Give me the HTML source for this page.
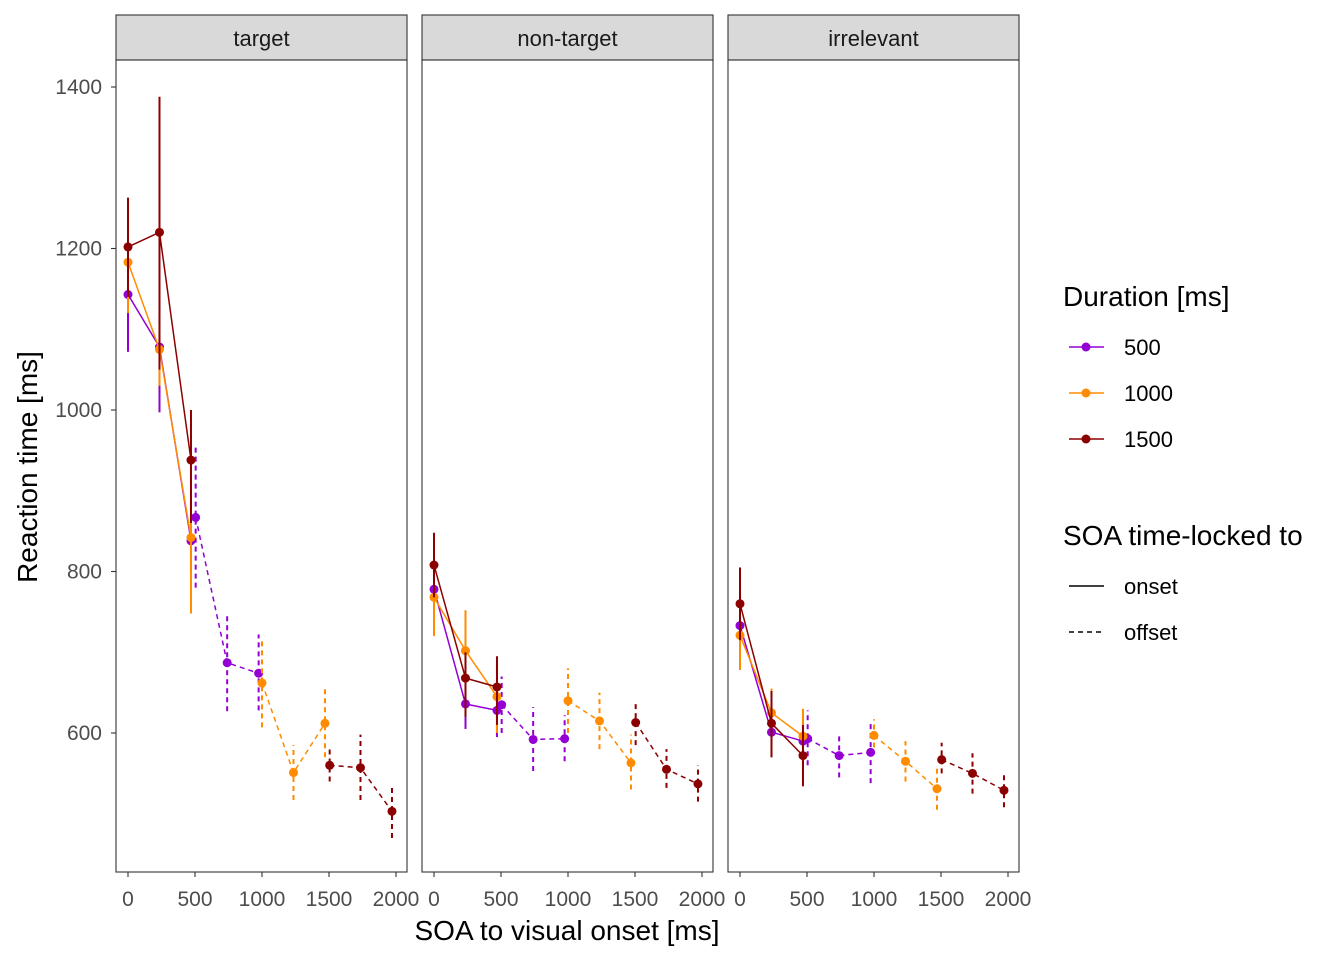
<!DOCTYPE html>
<html><head><meta charset="utf-8"><style>
body{margin:0;background:#fff;font-family:"Liberation Sans",sans-serif}
</style></head><body>
<svg id="chart" width="1344" height="960" xmlns="http://www.w3.org/2000/svg" font-family="Liberation Sans, sans-serif" style="position:absolute;left:0;top:0"></svg>
<script>
const panels=["target","non-target","irrelevant"];
const durations=["500","1000","1500"];
const colors=["#9400D3","#FF8C00","#8B0000"];
const onsetX=[0,235,470];
const offsetX=[[505,740,975],[1000,1235,1470],[1505,1735,1970]];
const onsetMean=[[[1143,1078,838],[1183,1075,842],[1202,1220,938]],
 [[778,636,628],[768,702,645],[808,668,657]],
 [[733,601,590],[721,625,596],[760,612,572]]];
const onsetLo=[[[1072,997,800],[1120,1030,748],[1140,1050,860]],
 [[740,605,595],[720,650,600],[768,620,610]],
 [[700,570,560],[678,590,560],[715,570,534]]];
const onsetHi=[[[1215,1150,880],[1250,1120,900],[1263,1388,1000]],
 [[815,668,660],[815,752,690],[848,700,695]],
 [[765,632,620],[765,655,630],[805,652,610]]];
const offsetMean=[[[867,687,674],[662,551,612],[560,557,503]],
 [[635,592,593],[640,615,563],[613,555,537]],
 [[593,572,576],[597,565,531],[567,550,529]]];
const offsetLo=[[[780,627,628],[607,517,570],[540,517,470]],
 [[600,553,565],[600,580,530],[585,532,515]],
 [[560,545,538],[582,540,505],[550,525,508]]];
const offsetHi=[[[955,748,722],[718,585,655],[580,598,535]],
 [[670,632,622],[680,650,598],[640,580,560]],
 [[628,600,612],[617,590,557],[588,575,552]]];
const xTicks=[0,500,1000,1500,2000];
const yTicks=[600,800,1000,1200,1400];

const svg=document.getElementById('chart');
const NS="http://www.w3.org/2000/svg";
function mk(t,a,p){const e=document.createElementNS(NS,t);for(const k in a)e.setAttribute(k,a[k]);(p||svg).appendChild(e);return e;}
const panelLeft=[116,422,728], panelW=291, plotTop=60, plotBottom=872;
function xs(p,v){return panelLeft[p]+12+v*0.134;}
function ys(v){return 87+(1400-v)*0.8075;}

yTicks.forEach(t=>{
 const l=mk('line',{x1:111,x2:116,y1:ys(t),y2:ys(t),stroke:'#333','stroke-width':1.1});
 
 
 const tx=mk('text',{x:102,y:ys(t)+7,'text-anchor':'end','font-size':21,fill:'#4d4d4d'});
 tx.textContent=t;
 
 
});

panels.forEach((name,p)=>{
 const g=mk('g',{});
 
 
 const s=mk('rect',{x:panelLeft[p],y:15,width:panelW,height:45,fill:'#d9d9d9',stroke:'#333','stroke-width':1.1},g);
 
 
 const st=mk('text',{x:panelLeft[p]+panelW/2,y:46,'text-anchor':'middle','font-size':22,fill:'#1a1a1a'},g);
 st.textContent=name;
 
 
 xTicks.forEach(t=>{
  const l=mk('line',{x1:xs(p,t),x2:xs(p,t),y1:plotBottom,y2:plotBottom+5,stroke:'#333','stroke-width':1.1},g);
  
  
  const tx=mk('text',{x:xs(p,t),y:906,'text-anchor':'middle','font-size':21,fill:'#4d4d4d'},g);
  tx.textContent=t;
  
  
 });
 durations.forEach((d,i)=>{
  const c=colors[i];
  [[onsetX,onsetMean,onsetLo,onsetHi,null],[offsetX[i],offsetMean,offsetLo,offsetHi,'5,4']].forEach(([X,M,L,H,dash])=>{
   const pts=X.map((x,k)=>xs(p,x)+','+ys(M[p][i][k])).join(' ');
   const a={points:pts,fill:'none',stroke:c,'stroke-width':1.5};
   if(dash)a['stroke-dasharray']=dash;
   const pl=mk('polyline',a,g);
   
   
   X.forEach((x,k)=>{
    const ea={x1:xs(p,x),x2:xs(p,x),y1:ys(L[p][i][k]),y2:ys(H[p][i][k]),stroke:c,'stroke-width':2};
    if(dash)ea['stroke-dasharray']=dash;
    const e=mk('line',ea,g);
    
    
    const pt=mk('circle',{cx:xs(p,x),cy:ys(M[p][i][k]),r:4.5,fill:c},g);
    
    
   });
  });
 });
 const fr=mk('rect',{x:panelLeft[p],y:plotTop,width:panelW,height:plotBottom-plotTop,fill:'none',stroke:'#333','stroke-width':1.1},g);
 
 
});
</script>
<svg style="position:absolute;left:0;top:0" width="1344" height="960" xmlns="http://www.w3.org/2000/svg" font-family="Liberation Sans, sans-serif">
<text x="567" y="940" text-anchor="middle" font-size="28" fill="#000">SOA to visual onset [ms]</text>
<text transform="translate(37,467) rotate(-90)" text-anchor="middle" font-size="28" fill="#000">Reaction time [ms]</text>
<text x="1063" y="306" font-size="28">Duration [ms]</text>
<g><line x1="1069" x2="1104" y1="347" y2="347" stroke="#9400D3" stroke-width="1.5"/><circle cx="1086" cy="347" r="4.5" fill="#9400D3"/><text x="1124" y="355" font-size="22">500</text></g>
<g><line x1="1069" x2="1104" y1="393" y2="393" stroke="#FF8C00" stroke-width="1.5"/><circle cx="1086" cy="393" r="4.5" fill="#FF8C00"/><text x="1124" y="401" font-size="22">1000</text></g>
<g><line x1="1069" x2="1104" y1="439" y2="439" stroke="#8B0000" stroke-width="1.5"/><circle cx="1086" cy="439" r="4.5" fill="#8B0000"/><text x="1124" y="447" font-size="22">1500</text></g>
<text x="1063" y="545" font-size="28">SOA time-locked to</text>
<g><line x1="1069" x2="1104" y1="586" y2="586" stroke="#000" stroke-width="1.5"/><text x="1124" y="594" font-size="22">onset</text></g>
<g><line x1="1069" x2="1104" y1="632" y2="632" stroke="#000" stroke-width="1.5" stroke-dasharray="5,4"/><text x="1124" y="640" font-size="22">offset</text></g>
</svg>
</body></html>
